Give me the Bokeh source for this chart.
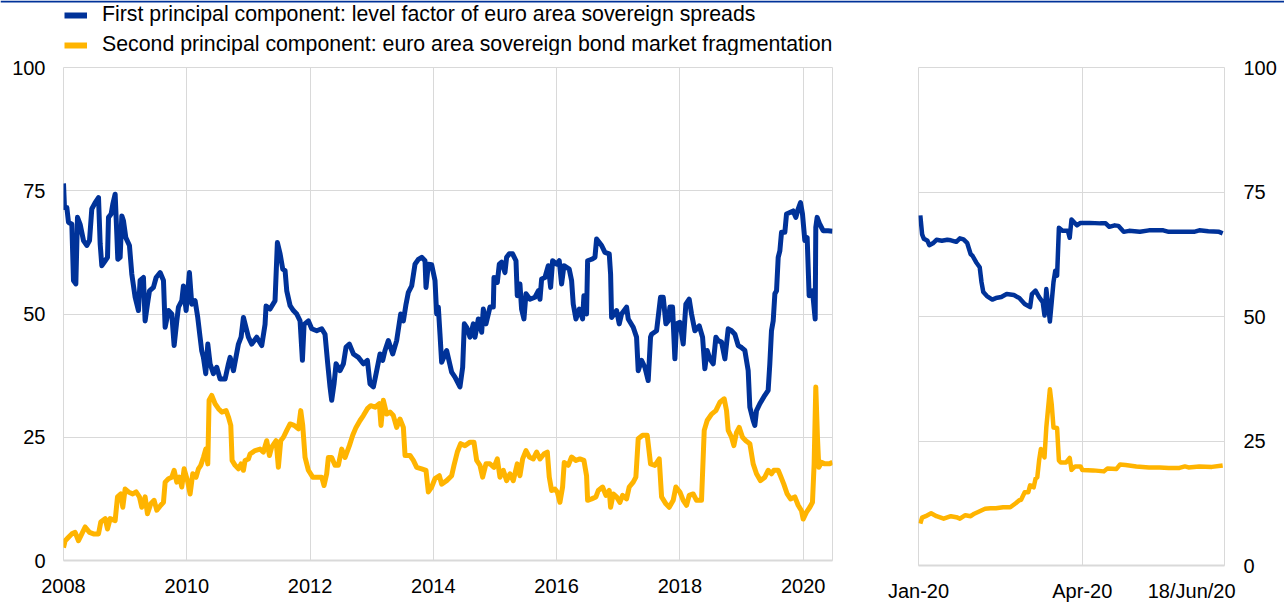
import numpy as np
import pandas as pd
from bokeh.plotting import figure
from bokeh.models import (Range1d, FixedTicker, Legend, LegendItem, Span,
                          CustomJSTickFormatter)
from bokeh.layouts import row, column
from bokeh.embed import file_html
from bokeh.resources import INLINE

BLUE = "#003299"
YELLOW = "#FFB400"
GRID = "#D9D9D9"
FONT = "Liberation Sans"
FS = "20px"
LEG_FS = "21.3px"

legend_labels = [
    "First principal component: level factor of euro area sovereign spreads",
    "Second principal component: euro area sovereign bond market fragmentation",
]
left_year_ticks = [2008, 2010, 2012, 2014, 2016, 2018, 2020]
y_ticks = [0, 25, 50, 75, 100]

# ---------------- left panel: 2008 - mid 2020 (decimal years) ----------------
pc1_years = [
    2008.000, 2008.016, 2008.054, 2008.081, 2008.135, 2008.162, 2008.200, 2008.227, 2008.270, 2008.324,
    2008.378, 2008.422, 2008.459, 2008.514, 2008.568, 2008.595, 2008.622, 2008.676, 2008.714, 2008.730,
    2008.773, 2008.800, 2008.838, 2008.865, 2008.881, 2008.919, 2008.946, 2008.973, 2009.011, 2009.070,
    2009.108, 2009.162, 2009.216, 2009.243, 2009.297, 2009.324, 2009.362, 2009.395, 2009.459, 2009.503,
    2009.568, 2009.622, 2009.649, 2009.703, 2009.757, 2009.795, 2009.838, 2009.865, 2009.919, 2009.946,
    2009.989, 2010.043, 2010.081, 2010.135, 2010.178, 2010.216, 2010.243, 2010.270, 2010.308, 2010.341,
    2010.378, 2010.432, 2010.486, 2010.541, 2010.622, 2010.676, 2010.703, 2010.757, 2010.838, 2010.881,
    2010.919, 2011.000, 2011.054, 2011.135, 2011.216, 2011.270, 2011.286, 2011.351, 2011.432, 2011.470,
    2011.514, 2011.557, 2011.595, 2011.622, 2011.676, 2011.730, 2011.784, 2011.838, 2011.876, 2011.903,
    2011.973, 2012.027, 2012.108, 2012.189, 2012.243, 2012.286, 2012.324, 2012.351, 2012.389, 2012.422,
    2012.486, 2012.541, 2012.584, 2012.638, 2012.703, 2012.784, 2012.865, 2012.930, 2012.973, 2013.027,
    2013.081, 2013.135, 2013.178, 2013.216, 2013.270, 2013.341, 2013.405, 2013.470, 2013.514, 2013.557,
    2013.595, 2013.649, 2013.703, 2013.757, 2013.811, 2013.865, 2013.881, 2013.919, 2013.973, 2014.027,
    2014.054, 2014.081, 2014.108, 2014.135, 2014.216, 2014.297, 2014.351, 2014.432, 2014.476, 2014.503,
    2014.541, 2014.595, 2014.649, 2014.676, 2014.730, 2014.784, 2014.811, 2014.854, 2014.919, 2014.973,
    2014.984, 2015.038, 2015.070, 2015.108, 2015.162, 2015.189, 2015.232, 2015.286, 2015.341, 2015.362,
    2015.405, 2015.432, 2015.470, 2015.503, 2015.568, 2015.649, 2015.703, 2015.730, 2015.757, 2015.811,
    2015.865, 2015.903, 2015.935, 2016.000, 2016.043, 2016.081, 2016.119, 2016.205, 2016.243, 2016.270,
    2016.314, 2016.368, 2016.422, 2016.443, 2016.486, 2016.503, 2016.568, 2016.622, 2016.649, 2016.730,
    2016.784, 2016.854, 2016.876, 2016.892, 2016.973, 2017.016, 2017.054, 2017.135, 2017.162, 2017.243,
    2017.297, 2017.324, 2017.378, 2017.432, 2017.486, 2017.524, 2017.541, 2017.622, 2017.686, 2017.730,
    2017.773, 2017.811, 2017.838, 2017.881, 2017.919, 2017.946, 2018.000, 2018.054, 2018.097, 2018.151,
    2018.189, 2018.243, 2018.314, 2018.368, 2018.405, 2018.443, 2018.486, 2018.541, 2018.584, 2018.622,
    2018.676, 2018.730, 2018.784, 2018.838, 2018.892, 2018.946, 2019.000, 2019.054, 2019.108, 2019.135,
    2019.189, 2019.216, 2019.243, 2019.297, 2019.378, 2019.432, 2019.459, 2019.486, 2019.514, 2019.541,
    2019.568, 2019.595, 2019.622, 2019.649, 2019.703, 2019.730, 2019.784, 2019.838, 2019.881, 2019.919,
    2019.957, 2019.989, 2020.027, 2020.065, 2020.097, 2020.151, 2020.195, 2020.205, 2020.227, 2020.270,
    2020.324, 2020.405, 2020.476,
]
pc1_values = [
    76.5, 71.6, 71.6, 68.6, 68.2, 56.8, 56.1, 69.6, 68.2, 64.9,
    63.9, 64.9, 71.3, 72.6, 73.6, 64.2, 59.8, 60.8, 61.5, 69.6,
    70.3, 72.3, 74.3, 66.2, 61.1, 61.5, 69.9, 68.9, 65.5, 63.9,
    58.1, 53.4, 50.7, 56.8, 57.4, 48.6, 52.0, 54.7, 55.4, 57.4,
    58.4, 56.8, 47.3, 50.7, 50.0, 43.6, 48.6, 51.4, 52.7, 55.7,
    50.7, 58.4, 52.0, 52.7, 49.3, 45.3, 42.5, 41.2, 37.9, 43.9,
    39.9, 37.9, 39.2, 36.8, 36.8, 39.9, 41.2, 38.5, 43.9, 45.3,
    49.3, 45.3, 43.9, 45.3, 43.6, 47.9, 51.6, 51.0, 52.7, 64.5,
    62.2, 59.1, 58.8, 54.7, 51.7, 50.7, 50.0, 48.6, 40.6, 47.9,
    48.6, 47.0, 46.6, 47.0, 45.9, 40.0, 35.2, 32.5, 35.8, 39.9,
    38.5, 39.9, 43.3, 43.9, 41.9, 41.2, 39.9, 40.6, 35.8, 35.2,
    38.5, 41.9, 40.6, 42.6, 44.6, 41.9, 44.6, 50.0, 48.6, 52.0,
    54.4, 55.7, 60.1, 61.1, 61.5, 60.8, 55.4, 60.1, 60.0, 56.8,
    50.0, 51.4, 45.9, 40.2, 42.6, 38.2, 37.2, 35.2, 39.2, 48.0,
    47.3, 45.3, 48.0, 45.3, 49.0, 46.3, 51.0, 48.0, 51.4, 51.4,
    57.4, 56.4, 60.1, 60.5, 58.4, 61.5, 62.2, 62.2, 60.8, 53.7,
    56.1, 51.0, 49.0, 54.1, 53.0, 53.4, 54.7, 53.0, 57.1, 57.4,
    59.8, 55.4, 60.8, 60.1, 60.8, 56.1, 59.8, 59.1, 56.8, 52.0,
    49.0, 51.0, 49.0, 53.7, 50.0, 60.8, 61.1, 61.5, 65.2, 63.9,
    62.5, 62.2, 58.1, 49.3, 50.7, 48.0, 50.0, 51.4, 49.0, 47.3,
    45.3, 38.5, 40.6, 39.2, 36.5, 45.3, 45.9, 46.6, 53.4, 53.4,
    48.0, 48.6, 51.4, 51.4, 40.9, 48.0, 48.3, 43.9, 52.0, 53.0,
    50.0, 46.6, 47.6, 45.3, 38.9, 42.6, 40.9, 39.9, 45.3, 44.6,
    44.3, 40.9, 47.0, 46.6, 45.9, 43.6, 43.2, 42.6, 38.5, 31.1,
    28.4, 27.4, 30.4, 31.8, 33.5, 34.5, 39.9, 46.6, 48.6, 54.1,
    54.7, 61.5, 62.8, 66.6, 66.6, 70.3, 70.6, 70.9, 69.6, 71.3,
    72.6, 70.3, 64.9, 65.5, 53.7, 54.7, 49.0, 67.6, 69.6, 68.2,
    66.9, 66.9, 66.8,
]

pc2_years = [
    2008.000, 2008.027, 2008.081, 2008.135, 2008.189, 2008.243, 2008.297, 2008.351, 2008.422, 2008.486,
    2008.568, 2008.605, 2008.676, 2008.714, 2008.757, 2008.838, 2008.876, 2008.930, 2008.962, 2009.000,
    2009.054, 2009.124, 2009.178, 2009.232, 2009.270, 2009.324, 2009.362, 2009.416, 2009.470, 2009.514,
    2009.578, 2009.622, 2009.649, 2009.703, 2009.757, 2009.795, 2009.838, 2009.881, 2009.919, 2009.957,
    2010.011, 2010.054, 2010.097, 2010.151, 2010.189, 2010.227, 2010.270, 2010.308, 2010.341, 2010.362,
    2010.405, 2010.459, 2010.514, 2010.568, 2010.638, 2010.676, 2010.714, 2010.735, 2010.784, 2010.838,
    2010.881, 2010.919, 2010.946, 2011.000, 2011.027, 2011.108, 2011.189, 2011.243, 2011.297, 2011.341,
    2011.378, 2011.449, 2011.486, 2011.524, 2011.568, 2011.622, 2011.676, 2011.741, 2011.811, 2011.849,
    2011.881, 2011.919, 2011.973, 2012.043, 2012.108, 2012.189, 2012.227, 2012.270, 2012.297, 2012.351,
    2012.405, 2012.459, 2012.514, 2012.568, 2012.638, 2012.692, 2012.746, 2012.811, 2012.865, 2012.930,
    2012.984, 2013.054, 2013.124, 2013.151, 2013.189, 2013.243, 2013.297, 2013.351, 2013.405, 2013.459,
    2013.514, 2013.541, 2013.622, 2013.676, 2013.730, 2013.811, 2013.881, 2013.919, 2013.973, 2014.027,
    2014.097, 2014.135, 2014.216, 2014.297, 2014.335, 2014.389, 2014.443, 2014.514, 2014.595, 2014.659,
    2014.703, 2014.757, 2014.800, 2014.854, 2014.919, 2014.984, 2015.038, 2015.081, 2015.135, 2015.189,
    2015.243, 2015.297, 2015.362, 2015.405, 2015.449, 2015.503, 2015.557, 2015.622, 2015.676, 2015.730,
    2015.795, 2015.849, 2015.881, 2015.919, 2015.973, 2016.011, 2016.054, 2016.097, 2016.124, 2016.189,
    2016.243, 2016.314, 2016.378, 2016.443, 2016.486, 2016.503, 2016.568, 2016.638, 2016.676, 2016.746,
    2016.800, 2016.854, 2016.876, 2016.919, 2016.973, 2017.027, 2017.070, 2017.135, 2017.178, 2017.243,
    2017.286, 2017.324, 2017.395, 2017.470, 2017.524, 2017.595, 2017.665, 2017.703, 2017.773, 2017.827,
    2017.892, 2017.935, 2018.000, 2018.054, 2018.108, 2018.151, 2018.216, 2018.270, 2018.351, 2018.395,
    2018.443, 2018.514, 2018.584, 2018.649, 2018.719, 2018.757, 2018.784, 2018.838, 2018.876, 2018.919,
    2018.962, 2019.016, 2019.070, 2019.135, 2019.189, 2019.243, 2019.308, 2019.378, 2019.432, 2019.486,
    2019.524, 2019.595, 2019.632, 2019.686, 2019.741, 2019.795, 2019.865, 2019.919, 2019.973, 2020.000,
    2020.054, 2020.108, 2020.151, 2020.178, 2020.205, 2020.232, 2020.254, 2020.297, 2020.351, 2020.422,
    2020.476,
]
pc2_values = [
    2.6, 4.0, 4.7, 5.4, 5.7, 4.0, 5.4, 6.8, 5.7, 5.4,
    5.4, 7.8, 8.5, 6.4, 8.5, 8.1, 12.9, 13.5, 10.8, 14.5,
    13.9, 13.5, 13.9, 12.9, 10.8, 12.9, 9.5, 11.5, 12.2, 10.2,
    11.2, 11.8, 15.9, 16.6, 16.9, 18.3, 15.9, 16.9, 14.9, 18.6,
    16.2, 13.5, 17.6, 16.9, 18.6, 19.3, 20.9, 22.6, 19.6, 32.5,
    33.5, 31.8, 30.8, 30.1, 30.4, 29.1, 27.4, 20.3, 19.3, 18.6,
    19.6, 18.3, 20.3, 20.6, 21.6, 22.3, 22.6, 22.0, 24.3, 21.3,
    23.0, 24.3, 18.9, 24.3, 25.0, 26.4, 27.7, 27.4, 26.7, 30.4,
    27.4, 20.9, 18.3, 16.9, 16.9, 16.9, 15.2, 17.6, 20.9, 20.9,
    19.3, 19.3, 22.6, 20.9, 23.3, 25.4, 27.0, 28.4, 29.4, 30.8,
    31.4, 31.1, 31.8, 27.4, 32.5, 29.7, 30.1, 29.4, 27.0, 28.7,
    27.0, 21.3, 21.3, 20.3, 18.9, 18.6, 18.3, 13.9, 14.9, 16.6,
    17.2, 15.5, 16.2, 17.2, 19.3, 22.0, 23.7, 23.3, 24.0, 24.0,
    20.3, 19.3, 16.9, 19.6, 19.6, 18.9, 20.6, 16.9, 18.3, 16.2,
    17.6, 16.2, 19.6, 17.2, 20.6, 22.3, 21.0, 20.6, 22.0, 20.6,
    21.6, 22.0, 16.9, 14.2, 14.5, 13.9, 11.8, 14.9, 19.9, 19.3,
    21.0, 20.3, 20.6, 20.3, 17.2, 12.2, 12.5, 12.9, 14.2, 14.9,
    13.2, 14.2, 10.8, 13.5, 12.9, 11.8, 13.2, 12.5, 14.9, 15.9,
    16.9, 24.7, 25.4, 25.4, 19.6, 19.3, 20.6, 12.9, 11.5, 10.8,
    12.2, 14.9, 13.9, 12.2, 11.2, 13.2, 13.5, 12.2, 12.2, 26.4,
    28.4, 29.7, 30.4, 32.1, 32.8, 30.4, 26.4, 25.0, 23.3, 26.0,
    27.0, 25.0, 24.3, 23.7, 19.6, 17.6, 16.2, 16.9, 18.3, 17.6,
    18.3, 18.3, 17.2, 15.5, 13.5, 12.5, 12.9, 11.2, 10.1, 8.4,
    9.8, 10.8, 11.8, 19.6, 35.2, 25.0, 18.9, 19.9, 19.6, 19.6,
    19.9,
]

# ---------------- right panel: 2020 daily detail ----------------
z1_dates = [
    "2020-01-02", "2020-01-03", "2020-01-04", "2020-01-06", "2020-01-07", "2020-01-09", "2020-01-11",
    "2020-01-14", "2020-01-17", "2020-01-19", "2020-01-22", "2020-01-24", "2020-01-26", "2020-01-28",
    "2020-01-30", "2020-01-31", "2020-02-02", "2020-02-04", "2020-02-05", "2020-02-06", "2020-02-08",
    "2020-02-11", "2020-02-13", "2020-02-16", "2020-02-19", "2020-02-23", "2020-02-26", "2020-02-29",
    "2020-03-03", "2020-03-04", "2020-03-06", "2020-03-08", "2020-03-10", "2020-03-11", "2020-03-12",
    "2020-03-14", "2020-03-15", "2020-03-16", "2020-03-17", "2020-03-18", "2020-03-19", "2020-03-21",
    "2020-03-24", "2020-03-25", "2020-03-26", "2020-03-29", "2020-03-31", "2020-04-05", "2020-04-11",
    "2020-04-14", "2020-04-16", "2020-04-19", "2020-04-21", "2020-04-24", "2020-04-27", "2020-05-03",
    "2020-05-08", "2020-05-16", "2020-05-19", "2020-05-25", "2020-05-30", "2020-06-02", "2020-06-05",
    "2020-06-10", "2020-06-16", "2020-06-18",
]
z1_values = [
    70.3, 66.5, 65.6, 65.2, 64.3, 64.7, 65.4,
    65.2, 65.4, 65.3, 65.0, 65.7, 65.5, 64.8,
    62.5, 62.2, 60.9, 59.9, 56.9, 54.9, 54.1,
    53.4, 53.7, 53.9, 54.5, 54.3, 53.7, 52.5,
    51.9, 54.5, 55.2, 53.9, 52.9, 50.2, 55.5,
    49.0, 52.9, 56.9, 59.2, 58.2, 67.8, 67.2,
    67.2, 65.8, 69.5, 68.3, 68.8, 68.8, 68.7,
    68.7, 68.0, 68.3, 68.2, 67.0, 67.2, 67.0,
    67.3, 67.3, 67.0, 67.0, 67.0, 67.0, 67.3,
    67.1, 67.0, 66.7,
]
z2_dates = [
    "2020-01-02", "2020-01-03", "2020-01-05", "2020-01-08", "2020-01-11", "2020-01-15", "2020-01-19",
    "2020-01-22", "2020-01-24", "2020-01-27", "2020-01-30", "2020-02-01", "2020-02-04", "2020-02-07",
    "2020-02-10", "2020-02-13", "2020-02-17", "2020-02-21", "2020-02-24", "2020-02-26", "2020-02-27",
    "2020-02-29", "2020-03-02", "2020-03-03", "2020-03-05", "2020-03-06", "2020-03-07", "2020-03-08",
    "2020-03-09", "2020-03-11", "2020-03-12", "2020-03-14", "2020-03-15", "2020-03-16", "2020-03-18",
    "2020-03-19", "2020-03-20", "2020-03-23", "2020-03-25", "2020-03-26", "2020-03-28", "2020-03-31",
    "2020-04-01", "2020-04-07", "2020-04-13", "2020-04-15", "2020-04-20", "2020-04-22", "2020-04-25",
    "2020-05-01", "2020-05-08", "2020-05-14", "2020-05-19", "2020-05-25", "2020-05-28", "2020-05-30",
    "2020-06-05", "2020-06-12", "2020-06-18",
]
z2_values = [
    8.4, 9.6, 9.9, 10.5, 9.9, 9.4, 9.9,
    9.7, 9.4, 10.1, 9.9, 10.4, 10.9, 11.4,
    11.5, 11.5, 11.7, 11.7, 12.5, 13.1, 13.2,
    14.7, 14.7, 16.1, 15.7, 17.4, 17.7, 21.1,
    23.4, 21.7, 27.7, 35.4, 32.4, 27.7, 27.6,
    21.1, 20.7, 20.7, 21.6, 19.2, 19.9, 19.9,
    19.2, 19.1, 18.9, 19.5, 19.4, 20.3, 20.2,
    19.9, 19.7, 19.7, 19.6, 19.6, 19.9, 19.7,
    19.9, 19.8, 20.1,
]
right_x_start = "2020-01-01"
right_x_end = "2020-06-19"
right_grid_ticks = ["2020-01-01", "2020-04-01"]
right_label_ticks = ["2020-01-01", "2020-04-01", "2020-05-31 18:00"]
right_tick_labels = ["Jan-20", "Apr-20", "18/Jun/20"]


def ms(s):
    return pd.Timestamp(s).value / 1e6


def style(p, label_standoff_x, label_standoff_y):
    p.outline_line_color = GRID
    p.outline_line_width = 1
    p.background_fill_color = "white"
    p.border_fill_color = "white"
    for g in (p.xgrid[0], p.ygrid[0]):
        g.grid_line_color = GRID
        g.grid_line_width = 1
    for ax in p.axis:
        ax.major_tick_line_color = None
        ax.minor_tick_line_color = None
        ax.major_tick_out = 0
        ax.major_tick_in = 0
        ax.minor_tick_out = 0
        ax.minor_tick_in = 0
        ax.major_label_text_font = FONT
        ax.major_label_text_font_size = FS
        ax.major_label_text_color = "#000000"
    p.xaxis.axis_line_color = GRID
    p.xaxis.axis_line_width = 2
    p.yaxis.axis_line_color = None
    p.xaxis.major_label_standoff = label_standoff_x
    p.yaxis.major_label_standoff = label_standoff_y
    p.yaxis.ticker = FixedTicker(ticks=y_ticks)


# ---------------- legend strip (with top rule) ----------------
# the strip's x range lies far from the data, so its lines only feed the legend glyphs
leg = figure(width=1284, height=55, x_range=Range1d(0, 1), y_range=Range1d(0, 55),
             x_axis_location=None, y_axis_location=None,
             min_border_left=0, min_border_right=0, min_border_top=0, min_border_bottom=0,
             output_backend="svg", toolbar_location=None)
leg.outline_line_color = None
leg.xgrid.visible = False
leg.ygrid.visible = False
leg.add_layout(Span(location=54, dimension="width", line_color=BLUE, line_width=2))
lr1 = leg.line(pc1_years, pc1_values, line_color=BLUE, line_width=6)
lr2 = leg.line(pc2_years, pc2_values, line_color=YELLOW, line_width=6)
legend = Legend(items=[LegendItem(label=legend_labels[0], renderers=[lr1]),
                       LegendItem(label=legend_labels[1], renderers=[lr2])],
                location=(64, -2), orientation="vertical",
                glyph_width=23, glyph_height=20, label_height=20, label_standoff=15,
                spacing=5, padding=0, margin=0,
                border_line_color=None, background_fill_alpha=0,
                label_text_font=FONT, label_text_font_size=LEG_FS, label_text_color="#000000")
leg.add_layout(legend)

# ---------------- left figure ----------------
p1 = figure(width=842, height=546, x_range=Range1d(2008, 2020.476), y_range=Range1d(0, 100),
            min_border_left=63, min_border_right=10, min_border_top=12, min_border_bottom=41,
            output_backend="svg", toolbar_location=None)
style(p1, 18, 18)
p1.xaxis.ticker = FixedTicker(ticks=left_year_ticks)
p1.line(pc1_years, pc1_values, line_color=BLUE, line_width=5, line_join="round")
p1.line(pc2_years, pc2_values, line_color=YELLOW, line_width=5, line_join="round")

# ---------------- right figure ----------------
p2 = figure(width=437, height=551, x_axis_type="datetime", y_axis_location="right",
            x_range=Range1d(ms(right_x_start), ms(right_x_end)), y_range=Range1d(0, 100),
            min_border_left=76, min_border_right=53, min_border_top=12, min_border_bottom=37,
            output_backend="svg", toolbar_location=None)
style(p2, 14, 19)
p2.xaxis.ticker = FixedTicker(ticks=[ms(t) for t in right_label_ticks])
p2.xgrid.ticker = FixedTicker(ticks=[ms(t) for t in right_grid_ticks])
p2.xaxis.formatter = CustomJSTickFormatter(args=dict(labels=right_tick_labels),
                                           code="return labels[index];")
p2.line(pd.to_datetime(z1_dates), z1_values, line_color=BLUE, line_width=4.5, line_join="round")
p2.line(pd.to_datetime(z2_dates), z2_values, line_color=YELLOW, line_width=4.5, line_join="round")

layout = column(leg, row(p1, p2))
open("out.html", "w").write(file_html(layout, INLINE))
